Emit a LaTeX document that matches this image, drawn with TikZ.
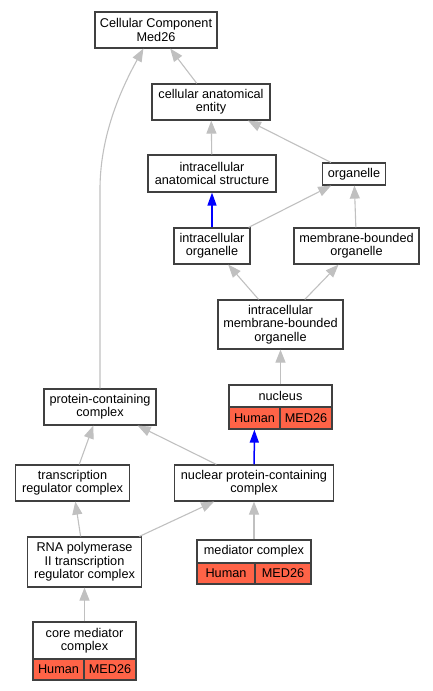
\documentclass[tikz,border=0pt]{standalone}
\usepackage{fontspec}
\setmainfont{Liberation Sans}
\usetikzlibrary{arrows.meta,calc}
\definecolor{edgegray}{HTML}{C0C0C0}
\definecolor{boxline}{HTML}{404040}
\definecolor{tomatofill}{HTML}{FF6347}
\definecolor{blueedge}{HTML}{0000FF}
\begin{document}
\begin{tikzpicture}[x=1pt,y=-1pt,
  box/.style={draw=boxline,line width=1.2pt,fill=white,inner sep=0pt,align=center,
    font=\fontsize{12.7}{13.3}\selectfont,rectangle},
  cell/.style={box,fill=tomatofill},
  isa/.style={draw=edgegray,line width=1.1pt,-{Triangle[length=13pt,width=10pt]}},
  partof/.style={draw=blueedge,line width=1.5pt,-{Triangle[length=13pt,width=9pt]}}
]
\useasboundingbox (0,0) rectangle (433,691);
% nodes
\node[box,minimum width=122pt,minimum height=36pt] (cc) at (156,30) {Cellular Component\\Med26};
\node[box,minimum width=118pt,minimum height=36pt] (cae) at (211,102) {cellular anatomical\\entity};
\node[box,minimum width=128pt,minimum height=37pt] (ias) at (212,173.5) {intracellular\\anatomical structure};
\node[box,minimum width=63pt,minimum height=22pt] (org) at (354,174) {organelle};
\node[box,minimum width=76pt,minimum height=36pt] (io) at (212,246) {intracellular\\organelle};
\node[box,minimum width=125pt,minimum height=36pt] (mbo) at (356.5,246) {membrane-bounded\\organelle};
\node[box,minimum width=125pt,minimum height=49pt] (imbo) at (280.5,324.5) {intracellular\\membrane-bounded\\organelle};
\node[box,minimum width=103pt,minimum height=22pt] (nuc) at (280.5,396) {nucleus};
\node[cell,minimum width=51pt,minimum height=22pt] (nuch) at (254.5,418) {Human};
\node[cell,minimum width=52pt,minimum height=22pt] (nucm) at (306,418) {MED26};
\node[box,minimum width=112pt,minimum height=36pt] (pcc) at (100,407) {protein-containing\\complex};
\node[box,minimum width=114pt,minimum height=36pt] (trc) at (72.5,483) {transcription\\regulator complex};
\node[box,minimum width=159pt,minimum height=36pt] (npcc) at (254,483) {nuclear protein-containing\\complex};
\node[box,minimum width=114pt,minimum height=50pt] (rna) at (84.5,562) {RNA polymerase\\II transcription\\regulator complex};
\node[box,minimum width=114pt,minimum height=23pt] (med) at (254,551.5) {mediator complex};
\node[cell,minimum width=58pt,minimum height=21pt] (medh) at (226,573.5) {Human};
\node[cell,minimum width=56pt,minimum height=21pt] (medm) at (283,573.5) {MED26};
\node[box,minimum width=103pt,minimum height=37pt] (core) at (84.5,640.5) {core mediator\\complex};
\node[cell,minimum width=51pt,minimum height=21pt] (coreh) at (58.5,669.5) {Human};
\node[cell,minimum width=52pt,minimum height=21pt] (corem) at (110,669.5) {MED26};
% edges
\draw[isa] (cae) -- (cc);
\coordinate (bend) at ($(pcc.north)+(0,-199)$);
\coordinate (ccin) at ($(cc.south west)+(49,0)$);
\draw[isa] (pcc.north) -- (bend) .. controls ($(bend)+(0,-50)$) and ($(bend)+(18,-95)$) .. (ccin);
\draw[isa] (ias) -- (cae);
\draw[isa] (org) -- (cae);
\draw[partof] (io) -- (ias);
\draw[isa] (io) -- (org);
\draw[isa] (mbo) -- (org);
\draw[isa] (imbo) -- (io);
\draw[isa] (imbo) -- (mbo);
\draw[isa] (nuc) -- (imbo);
\draw[isa] (trc) -- (pcc);
\draw[isa] (npcc) -- (pcc);
\draw[partof] (npcc) -- (nuch);
\draw[isa] (rna) -- (trc);
\draw[isa] (rna) -- (npcc);
\draw[isa] (med) -- (npcc);
\draw[isa] (core) -- (rna);
\end{tikzpicture}
\end{document}
